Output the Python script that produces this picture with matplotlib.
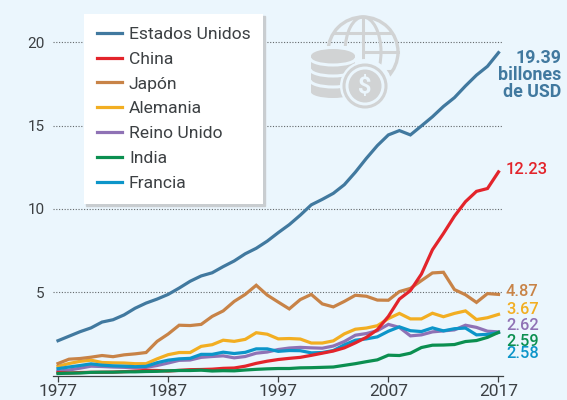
import matplotlib
matplotlib.use('Agg')
import matplotlib.pyplot as plt
from matplotlib.patches import Circle, Ellipse, Rectangle, Arc

plt.rcParams['font.family'] = ['Roboto', 'DejaVu Sans']

years = list(range(1977, 2018))
usa = [2.09,2.36,2.63,2.86,3.21,3.35,3.64,4.04,4.35,4.59,4.87,5.25,5.66,5.98,6.17,6.54,6.88,7.31,7.64,8.07,8.58,9.06,9.63,10.25,10.58,10.94,11.46,12.21,13.04,13.81,14.45,14.71,14.45,14.99,15.54,16.16,16.69,17.39,18.04,18.57,19.39]
china = [0.175,0.15,0.18,0.19,0.195,0.205,0.23,0.26,0.31,0.30,0.27,0.31,0.35,0.36,0.38,0.43,0.45,0.56,0.73,0.86,0.96,1.03,1.09,1.21,1.34,1.47,1.66,1.96,2.29,2.75,3.55,4.59,5.10,6.09,7.55,8.53,9.57,10.44,11.06,11.23,12.23]
japan = [0.72,0.98,1.02,1.10,1.20,1.13,1.24,1.30,1.38,2.05,2.49,3.02,3.00,3.07,3.55,3.88,4.45,4.87,5.42,4.83,4.41,4.0,4.56,4.87,4.30,4.12,4.45,4.82,4.76,4.53,4.52,5.04,5.23,5.70,6.16,6.20,5.16,4.85,4.39,4.92,4.87]
germany = [0.55,0.72,0.85,0.92,0.78,0.76,0.75,0.71,0.71,1.0,1.25,1.38,1.38,1.75,1.85,2.12,2.05,2.17,2.57,2.48,2.2,2.22,2.19,1.95,1.95,2.08,2.5,2.78,2.85,2.99,3.42,3.73,3.40,3.40,3.74,3.53,3.73,3.88,3.36,3.47,3.67]
uk = [0.26,0.33,0.44,0.56,0.54,0.51,0.49,0.46,0.49,0.60,0.75,0.91,0.93,1.09,1.14,1.18,1.06,1.14,1.34,1.41,1.56,1.65,1.69,1.66,1.64,1.77,2.04,2.42,2.52,2.69,3.07,2.89,2.38,2.44,2.62,2.68,2.74,3.02,2.89,2.66,2.62]
india = [0.12,0.14,0.15,0.19,0.2,0.2,0.22,0.22,0.24,0.25,0.28,0.30,0.30,0.32,0.27,0.29,0.28,0.33,0.37,0.40,0.42,0.42,0.46,0.47,0.49,0.51,0.61,0.71,0.83,0.94,1.22,1.2,1.34,1.68,1.82,1.83,1.86,2.04,2.10,2.29,2.59]
france = [0.41,0.51,0.6,0.7,0.62,0.58,0.56,0.53,0.55,0.77,0.92,1.0,1.03,1.27,1.27,1.4,1.32,1.39,1.6,1.6,1.45,1.5,1.49,1.36,1.38,1.5,1.84,2.12,2.2,2.32,2.66,2.92,2.69,2.64,2.86,2.68,2.81,2.85,2.44,2.47,2.58]

names = ['Estados Unidos', 'China', 'Japón', 'Alemania', 'Reino Unido', 'India', 'Francia']
series = [usa, china, japan, germany, uk, india, france]
colors = ['#41799F', '#E3242B', '#C88347', '#F2AE22', '#8F72B5', '#0B8F50', '#0C95C9']
zorders = [4, 6, 5, 3, 2, 7, 3.5]
yticks = [5, 10, 15, 20]
xticks = [1977, 1987, 1997, 2007, 2017]
end_labels = ['12.23', '4.87', '3.67', '2.62', '2.59', '2.58']
end_colors = ['#E3242B', '#C88347', '#F2AE22', '#8F72B5', '#0B8F50', '#0C95C9']
end_px = [169, 291, 309, 326, 341, 354]

bg = '#EBF6FD'
W, H = 567, 400
fig = plt.figure(figsize=(W/100, H/100), dpi=100, facecolor=bg)
# axes placed so that 1977 = 58px, 2017 = 498.5px, 0 = 375.5px, 20 = 42.5px
ax = fig.add_axes([53/W, (H-375.5)/H, 450/W, 366.3/H], facecolor='none')
ax.set_xlim(1977-5/11.01, 2017+4.5/11.01)
ax.set_ylim(0, 22)

for n, s, c, z in zip(names, series, colors, zorders):
    ax.plot(years, s, color=c, lw=2.3, label=n, zorder=z, clip_on=False, solid_joinstyle='miter')

for y in yticks:
    ax.axhline(y, color='#63686b', lw=0.8, ls=(0, (1, 1.5)), zorder=1)

for sp in ['top', 'left', 'right']:
    ax.spines[sp].set_visible(False)
ax.spines['bottom'].set_color('#3c4043')
ax.spines['bottom'].set_linewidth(0.9)
ax.set_xticks(xticks)
ax.set_yticks(yticks)
ax.tick_params(axis='x', length=4, width=0.9, color='#3c4043', labelsize=12.5, labelcolor='#3c4043', pad=2)
ax.tick_params(axis='y', length=0, labelsize=11, labelcolor='#3c4043', pad=6)

# legend
hs, ls = ax.get_legend_handles_labels()
leg = ax.legend(hs, ls, loc='upper left', bbox_to_anchor=((84-53)/450, 1-(14-9.2)/366.3), frameon=True,
                facecolor='white', edgecolor='none', framealpha=1, fancybox=False, fontsize=12.6,
                labelcolor='#3c4043', handlelength=1.43, handletextpad=0.42, labelspacing=0.55,
                borderpad=0.72, borderaxespad=0, shadow={'color': '#c9cdd0', 'alpha': 1, 'ox': 1.5, 'oy': -1.5})
leg.set_zorder(10)

# overlay in pixel coordinates for icon and end labels
ov = fig.add_axes([0, 0, 1, 1], facecolor='none')
ov.set_xlim(0, W)
ov.set_ylim(H, 0)
ov.axis('off')

g = '#D1D3D4'
# globe
ov.add_patch(Circle((363, 52), 35, fill=False, ec=g, lw=2.4))
ov.add_patch(Ellipse((363, 52), 36, 70, fill=False, ec=g, lw=2.2))
ov.plot([363, 363], [17, 87], color=g, lw=2.2)
ov.plot([328, 398], [52, 52], color=g, lw=2.2)
ov.plot([335, 391], [33, 33], color=g, lw=2.2)
ov.plot([335, 391], [71, 71], color=g, lw=2.2)
# mask over the globe's lower-left part
ov.add_patch(Rectangle((322, 46), 40, 52, fc=bg, ec='none', zorder=2))
ov.add_patch(Circle((365, 86), 27, fc=bg, ec='none', zorder=2))
# coins
ov.add_patch(Rectangle((311, 56), 44, 36, fc=g, ec='none', zorder=3))
ov.add_patch(Ellipse((333, 92), 44, 12, fc=g, ec='none', zorder=3))
ov.add_patch(Ellipse((333, 56), 44, 14, fc=g, ec='none', zorder=3))
for cy in [58, 69, 80]:
    ov.add_patch(Arc((333, cy), 46, 14, theta1=0, theta2=180, ec=bg, lw=2.2, zorder=3.2))
ov.add_patch(Circle((365, 86), 25, fc=bg, ec='none', zorder=4))
ov.add_patch(Circle((365, 86), 21, fill=False, ec=g, lw=2.2, zorder=4))
ov.add_patch(Circle((365, 86), 16.5, fc=g, ec='none', zorder=4))
ov.text(365, 87, '\\$', color=bg, fontsize=17, fontweight='bold', ha='center', va='center', zorder=5)

# end labels
ov.text(561, 75, '19.39\nbillones\nde USD', color='#41799F', fontsize=12.8, fontweight='bold',
        ha='right', va='center', linespacing=0.95)
for t, c, y in zip(end_labels, end_colors, end_px):
    ov.text(506, y, t, color=c, fontsize=11.8, fontweight='medium', ha='left', va='center')

fig.savefig('out.png', dpi=100, facecolor=bg)
